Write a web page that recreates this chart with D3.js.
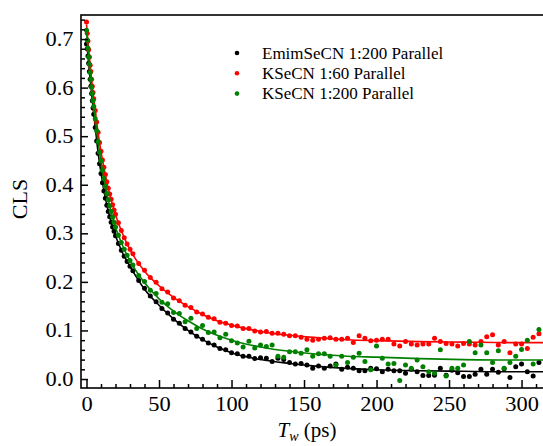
<!DOCTYPE html>
<html>
<head>
<meta charset="utf-8">
<script src="https://cdnjs.cloudflare.com/ajax/libs/d3/7.8.5/d3.min.js"></script>
<style>
    body { margin: 0; background: #fff; }
    .axis path { display: none; }
    .axis line { stroke: #000; stroke-width: 1.5px; }
    .stretch { transform-box: fill-box; transform-origin: center; transform: scaleX(1.12); }
</style>
</head>
<body>
<div id="chart"></div>
<script>
// waiting times (ps)
var tw = [0,0.5,1,1.5,2,2.5,3,3.5,4,4.5,5,6,7,8,9,10,11,12,13,14,15,16,17,18,19,20,22,24,26,28,30,
    32,36,40,44,48,52,56,60,64,68,72,76,80,84,88,92,96,100,104,108,112,116,120,
    124,128,132,136,140,144,148,152,156,160,164,168,172,176,180,184,188,192,196,200,204,208,212,216,220,
    224,228,232,236,240,244,248,252,256,260,264,268,272,276,280,284,288,292,296,300,304,308,312];

var emimCLS = [0.690,0.680,0.665,0.650,0.633,0.617,0.603,0.588,0.573,0.558,0.545,0.518,0.490,0.465,0.443,0.423,0.404,0.387,0.372,0.358,0.345,0.334,0.323,0.313,0.304,0.295,0.279,0.265,0.253,0.242,0.232,
    0.223,0.203,0.187,0.171,0.159,0.145,0.136,0.123,0.115,0.104,0.097,0.088,0.082,0.074,0.070,0.063,0.060,0.054,0.052,0.047,0.047,0.042,0.044,
    0.043,0.036,0.043,0.040,0.034,0.031,0.032,0.029,0.022,0.027,0.022,0.027,0.031,0.020,0.024,0.022,0.017,0.017,0.022,0.021,
    0.015,0.020,0.017,0.017,0.012,0.020,0.015,0.007,0.007,0.008,0.022,0.008,0.018,0.013,0.005,0.005,0.010,0.020,0.010,0.020,
    0.014,0.021,0.003,0.025,0.031,0.015,0.006,0.034];

var k60CLS = [0.735,0.712,0.696,0.678,0.663,0.646,0.633,0.617,0.603,0.590,0.577,0.553,0.529,0.508,0.487,0.469,0.451,0.436,0.421,0.406,0.393,0.381,0.370,0.359,0.348,0.339,0.322,0.306,0.291,0.278,0.267,
    0.258,0.238,0.224,0.209,0.199,0.186,0.179,0.167,0.161,0.152,0.147,0.138,0.134,0.127,0.124,0.117,0.115,0.110,0.109,0.104,0.104,0.099,0.097,
    0.098,0.094,0.094,0.092,0.089,0.089,0.086,0.082,0.080,0.082,0.084,0.085,0.082,0.082,0.084,0.075,0.089,0.084,0.079,0.080,
    0.082,0.082,0.072,0.068,0.077,0.072,0.070,0.072,0.072,0.084,0.077,0.073,0.072,0.068,0.073,0.072,0.070,0.077,0.087,0.091,
    0.070,0.077,0.054,0.072,0.072,0.063,0.086,0.093];

var k200CLS = [0.718,0.698,0.681,0.663,0.648,0.631,0.617,0.601,0.588,0.573,0.561,0.536,0.511,0.489,0.467,0.449,0.430,0.413,0.397,0.382,0.369,0.357,0.345,0.333,0.323,0.313,0.296,0.281,0.267,0.255,0.244,
    0.235,0.213,0.201,0.183,0.176,0.158,0.155,0.137,0.135,0.118,0.125,0.104,0.110,0.096,0.097,0.085,0.092,0.079,0.074,0.066,0.078,0.064,0.070,
    0.067,0.070,0.047,0.045,0.056,0.056,0.053,0.060,0.047,0.052,0.052,0.047,0.029,0.047,0.034,0.045,0.053,0.036,0.019,0.068,
    0.043,0.031,0.032,-0.003,0.029,0.022,0.039,0.025,0.015,0.012,0.060,0.006,0.022,0.022,0.029,0.077,0.054,0.070,0.054,0.034,
    0.058,0.022,0.034,0.047,0.061,0.080,0.031,0.102];

// fit curves
var fitTw = [0,1,2,3,4,5,6,8,10,12,15,20,25,30,40,50,60,70,80,90,100,120,140,160,180,200,230,260,290,315];
var emimFit = [0.700,0.665,0.633,0.603,0.573,0.545,0.519,0.466,0.424,0.388,0.346,0.295,0.259,0.232,0.185,0.152,0.124,0.100,0.081,0.066,0.054,0.040,0.032,0.026,0.022,0.019,0.017,0.016,0.015,0.015];
var k60Fit = [0.730,0.695,0.662,0.632,0.603,0.577,0.552,0.507,0.468,0.435,0.392,0.338,0.298,0.266,0.222,0.192,0.168,0.149,0.133,0.120,0.111,0.098,0.090,0.085,0.081,0.079,0.077,0.076,0.075,0.075];
var k200Fit = [0.715,0.680,0.647,0.616,0.587,0.560,0.535,0.488,0.448,0.412,0.368,0.313,0.274,0.243,0.198,0.165,0.140,0.120,0.103,0.090,0.080,0.066,0.057,0.051,0.047,0.045,0.042,0.040,0.039,0.039];

var seriesNames = ["EmimSeCN 1:200 Parallel", "KSeCN 1:60 Parallel", "KSeCN 1:200 Parallel"];
var seriesColors = ["#000000", "#ff0000", "#008000"];
var xTicks = [0, 50, 100, 150, 200, 250, 300];
var yTicks = [0.0, 0.1, 0.2, 0.3, 0.4, 0.5, 0.6, 0.7];

// pick the first serif face that is really installed
function pickFont(candidates) {
    var ctx = document.createElement("canvas").getContext("2d");
    var sample = "EmimSeCN 1:200 Parallel 0.7";
    ctx.font = "40px monospace";
    var base = ctx.measureText(sample).width;
    for (var i = 0; i < candidates.length; i++) {
        ctx.font = "40px '" + candidates[i] + "', monospace";
        if (Math.abs(ctx.measureText(sample).width - base) > 0.5) return "'" + candidates[i] + "'";
    }
    return "serif";
}
var serif = pickFont(["Liberation Serif", "Times New Roman", "Tinos", "DejaVu Serif", "Noto Serif"]) + ", serif";

var svg_width = 543, svg_height = 446;
var margin = {top: 15, left: 81, bottom: 58};
var height = svg_height - margin.top - margin.bottom;
var width = 470;  // right border runs off the picture

var svg = d3.select("#chart").append("svg")
    .attr("width", svg_width)
    .attr("height", svg_height)
    .style("font-family", serif);

var x = d3.scaleLinear().domain([-3.8, 314.8]).range([margin.left, svg_width]);
var y = d3.scaleLinear().domain([-0.0185, 0.7495]).range([margin.top + height, margin.top]);

svg.append("defs").append("clipPath")
    .attr("id", "plot-clip")
  .append("rect")
    .attr("x", margin.left)
    .attr("y", margin.top)
    .attr("width", width)
    .attr("height", height);

var series = [
    {name: seriesNames[0], color: seriesColors[0], data: emimCLS, fit: emimFit},
    {name: seriesNames[1], color: seriesColors[1], data: k60CLS, fit: k60Fit},
    {name: seriesNames[2], color: seriesColors[2], data: k200CLS, fit: k200Fit}
];

var line = d3.line()
    .curve(d3.curveMonotoneX)
    .x(function(d) { return x(d[0]); })
    .y(function(d) { return y(d[1]); });

var plot = svg.append("g").attr("clip-path", "url(#plot-clip)");

series.forEach(function(s) {
    var pts = tw.map(function(t, i) { return [t, s.data[i]]; });
    plot.append("g").selectAll("circle")
        .data(pts)
      .enter().append("circle")
        .attr("cx", function(d) { return x(d[0]); })
        .attr("cy", function(d) { return y(d[1]); })
        .attr("r", 2.5)
        .attr("fill", s.color);
    plot.append("path")
        .datum(fitTw.map(function(t, i) { return [t, s.fit[i]]; }))
        .attr("d", line)
        .attr("fill", "none")
        .attr("stroke", s.color)
        .attr("stroke-width", 1.6);
});

// minor ticks, then major ticks with labels (all pointing inward)
var minorX = d3.range(10, 315, 10).filter(function(v) { return v % 50 !== 0; });
var minorY = d3.range(0, 0.75, 0.02).filter(function(v) { return Math.round(v * 100) % 10 !== 0; });

svg.append("g")
    .attr("class", "axis")
    .attr("transform", "translate(0," + (margin.top + height) + ")")
    .call(d3.axisBottom(x).tickValues(minorX).tickSize(-4).tickFormat(""));
svg.append("g")
    .attr("class", "axis axis--x")
    .attr("transform", "translate(0," + (margin.top + height) + ")")
    .call(d3.axisBottom(x).tickValues(xTicks).tickSizeInner(-8).tickSizeOuter(0).tickPadding(9).tickFormat(d3.format("d")));

svg.append("g")
    .attr("class", "axis")
    .attr("transform", "translate(" + margin.left + ",0)")
    .call(d3.axisLeft(y).tickValues(minorY).tickSize(-4).tickFormat(""));
svg.append("g")
    .attr("class", "axis axis--y")
    .attr("transform", "translate(" + margin.left + ",0)")
    .call(d3.axisLeft(y).tickValues(yTicks).tickSizeInner(-7).tickSizeOuter(0).tickPadding(9).tickFormat(d3.format(".1f")));

svg.selectAll(".axis").attr("font-family", null).attr("font-size", null);
svg.selectAll(".axis--x text, .axis--y text")
    .attr("class", "stretch")
    .attr("fill", "#000")
    .style("font-family", serif)
    .style("font-size", "20px");

// frame (left, top, bottom)
svg.append("rect")
    .attr("x", margin.left)
    .attr("y", margin.top)
    .attr("width", width)
    .attr("height", height)
    .attr("fill", "none")
    .attr("stroke", "#000")
    .attr("stroke-width", 1.6);

// axis titles
svg.append("text")
    .attr("transform", "translate(27," + (margin.top + 184) + ") rotate(-90)")
    .attr("text-anchor", "middle")
    .style("font-size", "22px")
    .text("CLS");

var xt = svg.append("text")
    .attr("x", 307)
    .attr("y", 437)
    .attr("text-anchor", "middle")
    .style("font-size", "21px");
xt.append("tspan").style("font-style", "italic").text("T");
xt.append("tspan").style("font-style", "italic").style("font-size", "14px").attr("dy", 4).text("w");
xt.append("tspan").attr("dy", -4).text(" (ps)");

// legend
var legend = svg.append("g").attr("transform", "translate(237,53)");
series.forEach(function(s, i) {
    var row = legend.append("g").attr("transform", "translate(0," + (i * 20.3) + ")");
    row.append("circle").attr("r", 2.3).attr("fill", s.color);
    row.append("text")
        .attr("x", 25)
        .attr("dy", "0.33em")
        .style("font-size", "17px")
        .text(s.name);
});
</script>
</body>
</html>
